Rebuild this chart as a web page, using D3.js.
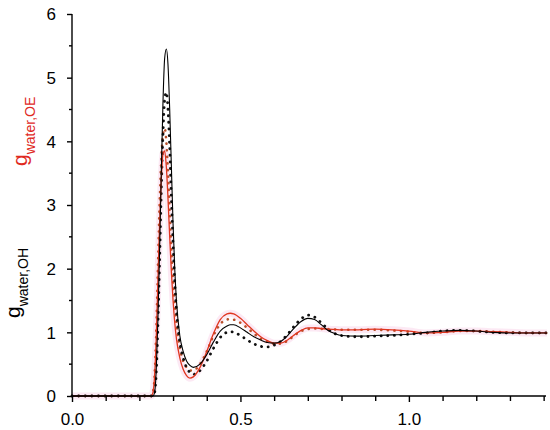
<!DOCTYPE html>
<html>
<head>
<meta charset="utf-8">
<script src="https://cdn.jsdelivr.net/npm/d3@7"></script>
<style>
  html, body { margin: 0; padding: 0; background: #fff; }
  svg { display: block; font-family: "Liberation Sans", Arial, sans-serif; }
</style>
</head>
<body>
<svg id="chart" width="550" height="430"></svg>
<script>
// distance grid (shared by all series)
const rValues = [0, 0.235, 0.24, 0.245, 0.25, 0.255, 0.26, 0.265, 0.27, 0.275, 0.28, 0.285, 0.29, 0.295, 0.30, 0.305, 0.31, 0.32, 0.33, 0.34, 0.35, 0.36, 0.38, 0.40, 0.42, 0.44, 0.46, 0.47, 0.48, 0.50, 0.52, 0.54, 0.56, 0.58, 0.60, 0.62, 0.64, 0.66, 0.68, 0.70, 0.72, 0.74, 0.76, 0.78, 0.80, 0.85, 0.90, 0.95, 1.00, 1.05, 1.10, 1.15, 1.20, 1.25, 1.30, 1.35, 1.40, 1.41];

// g_water,OH (black)
const ohSolid = [0, 0, 0, 0.05, 0.4, 1.2, 2.3, 3.5, 4.6, 5.3, 5.45, 5.2, 4.5, 3.6, 2.7, 2.0, 1.5, 0.95, 0.7, 0.55, 0.48, 0.45, 0.5, 0.65, 0.85, 1.02, 1.1, 1.12, 1.12, 1.07, 1.0, 0.93, 0.88, 0.84, 0.83, 0.86, 0.95, 1.07, 1.17, 1.22, 1.2, 1.12, 1.03, 0.98, 0.95, 0.94, 0.95, 0.96, 0.97, 1.0, 1.02, 1.03, 1.02, 1.0, 0.99, 0.99, 0.99, 0.99];
const ohDotted = [0, 0, 0, 0.05, 0.35, 1.1, 2.1, 3.2, 4.1, 4.65, 4.77, 4.5, 3.9, 3.1, 2.4, 1.8, 1.35, 0.85, 0.6, 0.45, 0.37, 0.34, 0.4, 0.55, 0.75, 0.92, 1.0, 1.01, 1.0, 0.95, 0.88, 0.82, 0.78, 0.77, 0.8, 0.86, 0.97, 1.1, 1.21, 1.27, 1.24, 1.15, 1.05, 0.98, 0.95, 0.93, 0.94, 0.95, 0.97, 0.99, 1.02, 1.03, 1.02, 1.0, 0.99, 0.99, 0.99, 0.99];

// g_water,OE (red)
const oeSolid = [0, 0, 0.05, 0.3, 0.9, 1.8, 2.7, 3.4, 3.8, 3.85, 3.6, 3.1, 2.5, 1.95, 1.5, 1.15, 0.9, 0.6, 0.42, 0.32, 0.28, 0.3, 0.45, 0.7, 0.98, 1.2, 1.29, 1.3, 1.29, 1.22, 1.12, 1.02, 0.93, 0.87, 0.83, 0.83, 0.88, 0.96, 1.03, 1.07, 1.07, 1.06, 1.05, 1.045, 1.04, 1.04, 1.05, 1.04, 1.02, 0.99, 1.0, 1.02, 1.02, 1.01, 1.0, 0.99, 0.99, 0.99];
const oeDotted = [0, 0, 0.05, 0.3, 1.0, 2.0, 3.0, 3.7, 4.1, 4.2, 4.0, 3.5, 2.9, 2.3, 1.8, 1.45, 1.15, 0.75, 0.55, 0.45, 0.4, 0.4, 0.5, 0.7, 0.95, 1.13, 1.2, 1.21, 1.2, 1.15, 1.07, 0.98, 0.9, 0.85, 0.82, 0.82, 0.87, 0.95, 1.02, 1.05, 1.06, 1.055, 1.05, 1.045, 1.04, 1.04, 1.04, 1.03, 1.01, 0.99, 1.0, 1.02, 1.02, 1.01, 1.0, 0.99, 0.99, 0.99];

const xTicks = [0, 0.1, 0.2, 0.3, 0.4, 0.5, 0.6, 0.7, 0.8, 0.9, 1.0, 1.1, 1.2, 1.3, 1.4];
const xLabelTicks = [0, 0.5, 1.0];
const yTicks = [0, 1, 2, 3, 4, 5, 6];
const yMinorTicks = [0.5, 1.5, 2.5, 3.5, 4.5, 5.5];

const svg = d3.select("#chart");
const x = d3.scaleLinear().domain([0, 1.407]).range([72, 546]);
const y = d3.scaleLinear().domain([0, 6]).range([396, 14]);

const line = vals => d3.line()
  .x((d, i) => x(rValues[i]))
  .y(d => y(d))
  .curve(d3.curveMonotoneX)(vals);

const plot = svg.append("g");

// faint pink halo around red curve (as in the reference)
plot.append("path").attr("d", line(oeSolid))
  .attr("fill", "none").attr("stroke", "#fbe0f0").attr("stroke-width", 7)
  .attr("stroke-linejoin", "round").attr("opacity", 0.7);

plot.append("path").attr("d", line(oeDotted))
  .attr("fill", "none").attr("stroke", "#b9502a").attr("stroke-width", 2.6)
  .attr("stroke-linecap", "round").attr("stroke-dasharray", "0.1,6.5");

plot.append("path").attr("d", line(ohDotted))
  .attr("fill", "none").attr("stroke", "#111").attr("stroke-width", 2.8)
  .attr("stroke-linecap", "round").attr("stroke-dasharray", "0.1,6.5");

plot.append("path").attr("d", line(oeSolid))
  .attr("fill", "none").attr("stroke", "#e0351f").attr("stroke-width", 1.3);

plot.append("path").attr("d", line(ohSolid))
  .attr("fill", "none").attr("stroke", "#000").attr("stroke-width", 1.1);

// axes
const xAxis = svg.append("g").attr("transform", "translate(0,396)")
  .call(d3.axisBottom(x).tickValues(xTicks).tickSize(0).tickFormat(""));
xAxis.select(".domain").attr("d", `M${x(0)},0H546`).attr("stroke-width", 1.4);
xAxis.selectAll(".tick line").attr("y2", d => xLabelTicks.includes(d) ? 6 : 5).attr("stroke-width", 1.4);
xAxis.selectAll(".tick").filter(d => xLabelTicks.includes(d)).append("text")
  .attr("y", 29).attr("fill", "#000").attr("text-anchor", "middle")
  .style("font-size", "17px").text(d => d3.format(".1f")(d));

const yAxis = svg.append("g").attr("transform", "translate(72,0)")
  .call(d3.axisLeft(y).tickValues(yTicks).tickSize(5).tickPadding(11).tickFormat(d3.format("d")));
yAxis.select(".domain").attr("d", "M0,396V14").attr("stroke-width", 1.4);
yAxis.selectAll(".tick line").attr("stroke-width", 1.4);
yAxis.selectAll(".tick text").style("font-size", "17px").attr("fill", "#000").attr("dy", "0.35em");
yAxis.selectAll(".minor").data(yMinorTicks).enter().append("line")
  .attr("x1", 0).attr("x2", -3).attr("y1", d => y(d)).attr("y2", d => y(d))
  .attr("stroke", "#000").attr("stroke-width", 1.4);

// axis titles
const t1 = svg.append("text").attr("transform", "translate(20,318) rotate(-90)")
  .attr("fill", "#000");
t1.append("tspan").style("font-size", "21px").text("g");
t1.append("tspan").style("font-size", "14px").attr("dy", "0.55em").text("water,OH");

const t2 = svg.append("text").attr("transform", "translate(27,166) rotate(-90)")
  .attr("fill", "#e02a1f");
t2.append("tspan").style("font-size", "21px").text("g");
t2.append("tspan").style("font-size", "14px").attr("dy", "0.55em").text("water,OE");
</script>
</body>
</html>
